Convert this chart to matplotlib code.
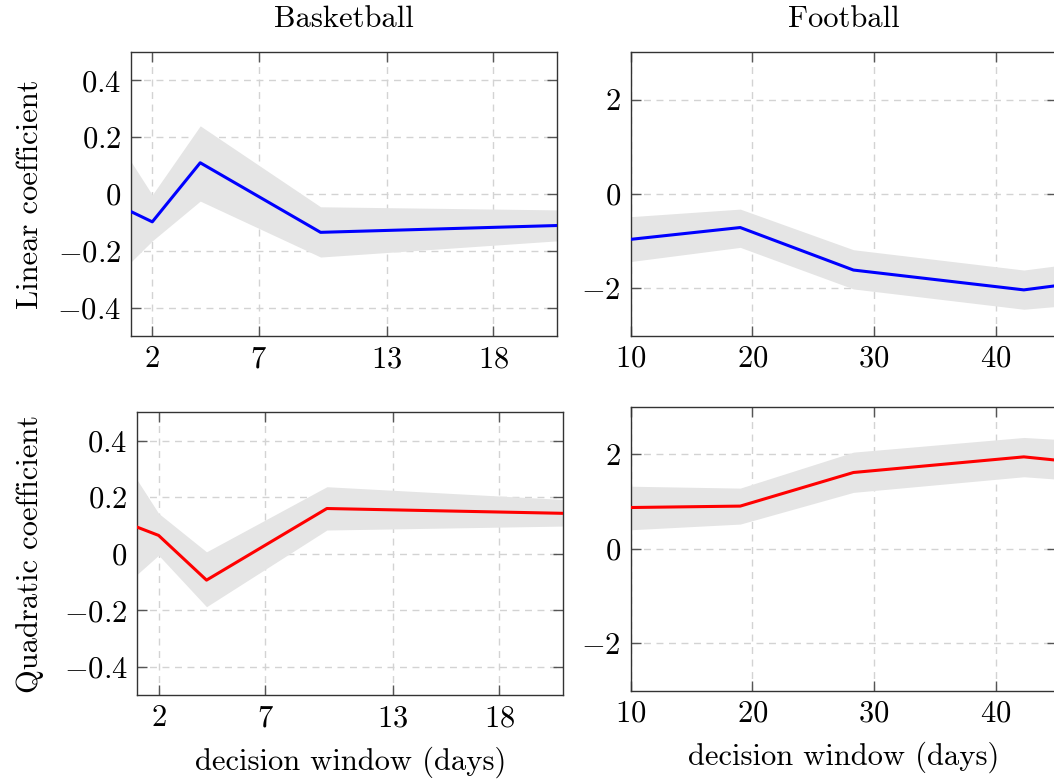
import matplotlib
matplotlib.use("Agg")
import matplotlib.pyplot as plt
from matplotlib.ticker import FuncFormatter, FixedLocator

plt.rcParams['font.family'] = 'serif'
plt.rcParams['font.serif'] = ['cmr10']
plt.rcParams['mathtext.fontset'] = 'cm'
plt.rcParams['axes.formatter.use_mathtext'] = True

# ---- data ----
bb_x = [1, 2, 4.25, 9.9, 21]
bb_lin = [-0.062, -0.098, 0.11, -0.135, -0.111]
bb_lin_hi = [0.114, -0.003, 0.24, -0.045, -0.056]
bb_lin_lo = [-0.239, -0.165, -0.025, -0.222, -0.165]
bb_quad = [0.094, 0.065, -0.093, 0.16, 0.143]
bb_quad_hi = [0.26, 0.143, 0.007, 0.237, 0.192]
bb_quad_lo = [-0.072, -0.005, -0.187, 0.084, 0.098]

fb_x = [10, 19, 28.3, 42.3, 45]
fb_lin = [-0.96, -0.71, -1.61, -2.03, -1.94]
fb_lin_hi = [-0.48, -0.32, -1.18, -1.61, -1.52]
fb_lin_lo = [-1.43, -1.13, -2.01, -2.44, -2.38]
fb_quad = [0.87, 0.90, 1.61, 1.94, 1.87]
fb_quad_hi = [1.32, 1.28, 2.04, 2.35, 2.31]
fb_quad_lo = [0.40, 0.52, 1.19, 1.52, 1.47]

bb_xticks = [2, 7, 13, 18]
bb_yticks = [-0.4, -0.2, 0, 0.2, 0.4]
fb_xticks = [10, 20, 30, 40]
fb_yticks = [-2, 0, 2]

W, H = 1054, 780
fig = plt.figure(figsize=(W / 100, H / 100), dpi=100)

def add_ax(left, right, top, bottom):
    return fig.add_axes([left / W, 1 - bottom / H, (right - left) / W, (bottom - top) / H])

FS = 22

def style(ax, xticks, yticks, xlim, ylim):
    ax.set_xlim(*xlim)
    ax.set_ylim(*ylim)
    ax.xaxis.set_major_locator(FixedLocator(xticks))
    ax.yaxis.set_major_locator(FixedLocator(yticks))
    fmt = FuncFormatter(lambda v, p: f"${v:g}$")
    ax.xaxis.set_major_formatter(fmt)
    ax.yaxis.set_major_formatter(fmt)
    ax.grid(True, linestyle=(0, (5, 4)), color='#d3d3d3', linewidth=1.0)
    ax.set_axisbelow(True)
    ax.tick_params(direction='in', length=7, width=1, color='#555555',
                   top=True, right=True, labelsize=FS, pad=7)
    for s in ax.spines.values():
        s.set_color('#333333')
        s.set_linewidth(1.0)

def draw(ax, x, y, lo, hi, color):
    ax.fill_between(x, lo, hi, color='#e5e5e5', linewidth=0, zorder=1.5)
    ax.plot(x, y, color=color, linewidth=2.2, zorder=3)

ax1 = add_ax(131, 557, 52, 336)
draw(ax1, bb_x, bb_lin, bb_lin_lo, bb_lin_hi, 'blue')
style(ax1, bb_xticks, bb_yticks, (1, 21), (-0.5, 0.5))
ax1.set_title('Basketball', fontsize=FS, pad=18)
ax1.set_ylabel('Linear coefficient', fontsize=FS, labelpad=10)

ax2 = add_ax(630.7, 1056.7, 52.3, 335.7)
draw(ax2, fb_x, fb_lin, fb_lin_lo, fb_lin_hi, 'blue')
style(ax2, fb_xticks, fb_yticks, (10, 45), (-3, 3))
ax2.set_title('Football', fontsize=FS, pad=18)

ax3 = add_ax(137.3, 563.3, 412.3, 695.3)
draw(ax3, bb_x, bb_quad, bb_quad_lo, bb_quad_hi, 'red')
style(ax3, bb_xticks, bb_yticks, (1, 21), (-0.5, 0.5))
ax3.set_ylabel('Quadratic coefficient', fontsize=FS, labelpad=14)
ax3.set_xlabel('decision window (days)', fontsize=FS, labelpad=10)

ax4 = add_ax(630.7, 1056.7, 406.7, 690.7)
draw(ax4, fb_x, fb_quad, fb_quad_lo, fb_quad_hi, 'red')
style(ax4, fb_xticks, fb_yticks, (10, 45), (-3, 3))
ax4.set_xlabel('decision window (days)', fontsize=FS, labelpad=10)

fig.savefig('out.png', dpi=100)
